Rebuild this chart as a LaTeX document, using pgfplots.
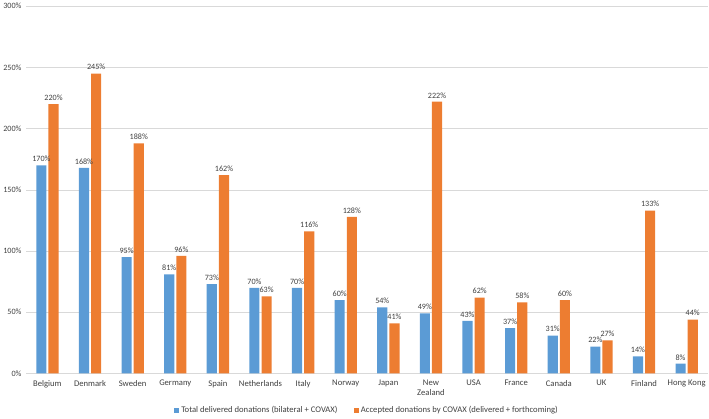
\documentclass[border=0pt]{standalone}
\usepackage{pgfplots}
\pgfplotsset{compat=1.18}
\usepackage{fontspec}
\setmainfont{Carlito}
\definecolor{cblue}{HTML}{5B9BD5}
\definecolor{corange}{HTML}{ED7D31}
\definecolor{tgray}{HTML}{404040}
\definecolor{ggray}{HTML}{D9D9D9}
\begin{document}
\begin{tikzpicture}
\begin{axis}[
  scale only axis, width=672pt, height=362pt,
  xmin=-0.5, xmax=15.5, ymin=0, ymax=300,
  ybar, bar width=10pt,
  axis x line*=bottom, axis y line*=left,
  x axis line style={ggray}, y axis line style={draw=none},
  ytick={0,50,...,300},
  ymajorgrids, grid style={ggray, line width=0.6pt},
  major tick length=0pt,
  /pgf/number format/assume math mode=true,
  yticklabel={\pgfmathprintnumber{\tick}\%},
  yticklabel style={font=\fontsize{8}{9}\selectfont, text=tgray, xshift=-1pt},
  xtick=data,
  xticklabels={Belgium,Denmark,Sweden,Germany,Spain,Netherlands,Italy,Norway,Japan,{New\\Zealand},USA,France,Canada,UK,Finland,Hong Kong},
  xticklabel style={font=\fontsize{8.5}{10}\selectfont, text=tgray, align=center, anchor=north, yshift=-3pt},
  nodes near coords={\pgfmathprintnumber{\pgfplotspointmeta}\%},
  nodes near coords style={font=\fontsize{8}{9}\selectfont, text=tgray},
  legend columns=2,
  legend style={at={(0.5,0)}, anchor=north, yshift=-28pt, draw=none, font=\fontsize{8.5}{10}\selectfont, text=tgray, /tikz/every even column/.append style={column sep=14pt}},
  legend image code/.code={\fill (0pt,-2.5pt) rectangle (5pt,2.5pt);},
]
\addplot[fill=cblue, draw=none, bar shift=-6pt] coordinates {
(0,170) (1,168) (2,95) (3,81) (4,73) (5,70) (6,70) (7,60) (8,54) (9,49) (10,43) (11,37) (12,31) (13,22) (14,14) (15,8)};
\addplot[fill=corange, draw=none, bar shift=6pt] coordinates {
(0,220) (1,245) (2,188) (3,96) (4,162) (5,63) (6,116) (7,128) (8,41) (9,222) (10,62) (11,58) (12,60) (13,27) (14,133) (15,44)};
\legend{Total delivered donations (bilateral + COVAX), Accepted donations by COVAX (delivered + forthcoming)}
\end{axis}
\end{tikzpicture}
\end{document}
